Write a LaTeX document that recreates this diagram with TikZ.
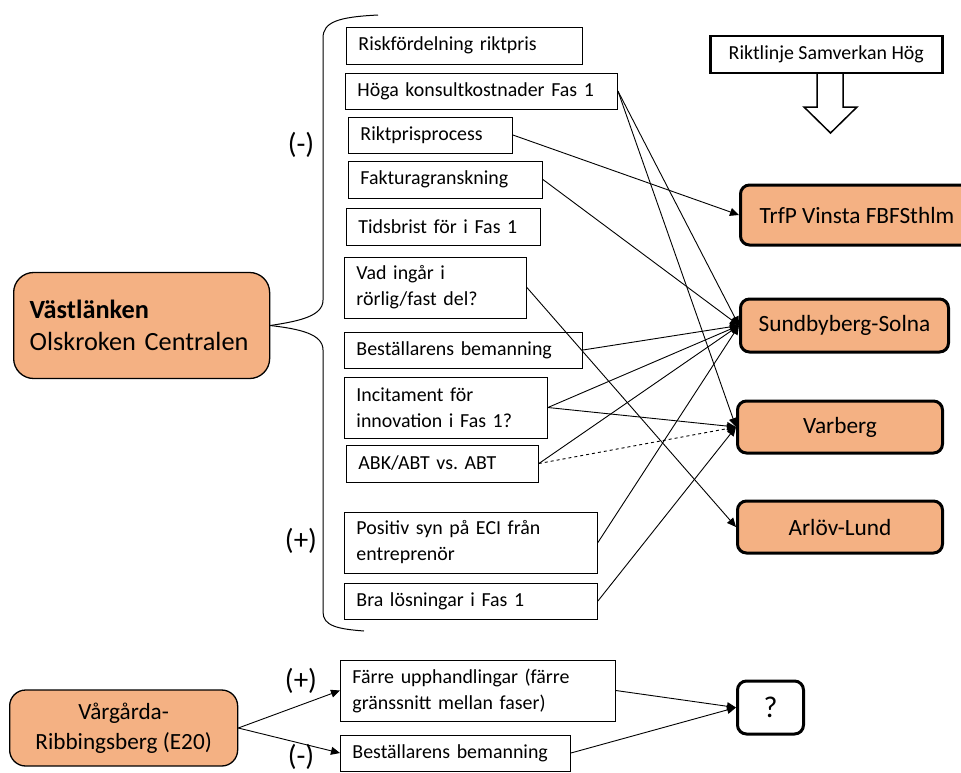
\documentclass[tikz,border=0pt]{standalone}
\usepackage{fontspec}
\setmainfont{Carlito}
\frenchspacing
\usepackage{tikz}
\usetikzlibrary{positioning}
\usetikzlibrary{arrows.meta}
\definecolor{boxorange}{HTML}{F4B183}
\tikzset{
factor/.style={ % Boxes with the factors, text to the left
draw,
line width=0.9pt,
anchor=west,
align=left,
inner xsep=12pt,
inner ysep=0pt,
font=\fontsize{19.9}{26}\selectfont},
target/.style={ % Projects on the right
draw,
line width=3pt,
rounded corners=9pt,
fill=boxorange,
anchor=west,
inner sep=0pt,
font=\fontsize{23.3}{28}\selectfont},
project/.style={ % Projects on the left
draw,
line width=1.3pt,
fill=boxorange,
anchor=west,
inner sep=0pt},
sign/.style={font=\fontsize{29}{32}\selectfont},
>={Triangle[length=9pt,width=8pt]},
every edge/.style={ % Sets the properties for each connector
draw,
->,
line width=0.9pt}}

\begin{document}
\begin{tikzpicture}[x=1pt, y=-1pt]
\useasboundingbox (0,0) rectangle (961,772);
\node[project, rounded corners=20pt, minimum width=256pt, minimum height=106pt, text width=224pt, align=left, font=\fontsize{26.3}{32}\selectfont] (vast) at (13,325.5) {\textbf{Västlänken}\\Olskroken Centralen};
\node[factor, text width=212pt, minimum height=37pt] (risk) at (346,45.5) {Riskfördelning riktpris};
\node[factor, text width=248pt, minimum height=36pt] (hoga) at (345,91) {Höga konsultkostnader Fas 1};
\node[factor, text width=140pt, minimum height=36pt] (riktp) at (348,135) {Riktprisprocess};
\node[factor, text width=170pt, minimum height=37pt] (faktura) at (348,179.5) {Fakturagranskning};
\node[factor, text width=170pt, minimum height=37pt] (tids) at (346,226.5) {Tidsbrist för i Fas 1};
\node[factor, text width=158pt, minimum height=61pt] (vad) at (344,287.5) {Vad ingår i\\rörlig/fast del?};
\node[factor, text width=214pt, minimum height=36pt] (best) at (344,350) {Beställarens bemanning};
\node[factor, text width=179pt, minimum height=61pt] (incit) at (344,407.5) {Incitament för\\innovation i Fas 1?};
\node[factor, text width=168pt, minimum height=37pt] (abk) at (346,463.5) {ABK/ABT vs. ABT};
\node[factor, text width=229pt, minimum height=61pt] (positiv) at (344,542.5) {Positiv syn på ECI från\\entreprenör};
\node[factor, text width=229pt, minimum height=36pt] (bra) at (344,601) {Bra lösningar i Fas 1};
\node[sign] (minus) at (301,145) {(-)};
\node[sign] (plus) at (301,541) {(+)};
% brace from the project to the factors
\coordinate (bracetop) at (378,15);
\coordinate (bracebot) at (364,631);
\draw[line width=1pt] (bracetop) .. controls (338,17) and (323,22) .. (323,38) -- (323,300) .. controls (323,316) and (300,321) .. (vast.east);
\draw[line width=1pt] (vast.east) .. controls (300,329) and (323,334) .. (323,350) -- (323,612) .. controls (323,626) and (338,629) .. (bracebot);
\node[draw, line width=2.5pt, anchor=west, minimum width=232pt, minimum height=37pt, font=\fontsize{19.9}{24}\selectfont] (riktl) at (709,54.5) {Riktlinje Samverkan Hög};
\draw[line width=1.5pt] (817,73) -- (817,107) -- (804,107) -- (830.5,133) -- (857,107) -- (843,107) -- (843,73);
\node[target, minimum width=233pt, minimum height=60pt] (trfp) at (739,215) {TrfP Vinsta FBFSthlm};
\node[target, minimum width=208pt, minimum height=53pt] (sund) at (739,325.5) {Sundbyberg-Solna};
\node[target, minimum width=205pt, minimum height=52pt] (varb) at (736,427) {Varberg};
\node[target, minimum width=205pt, minimum height=52pt] (arlov) at (736,527) {Arlöv-Lund};
\draw (riktp.east) edge (trfp.west);
\draw (hoga.east) edge (sund.west);
\draw (hoga.east) edge (varb.west);
\draw (faktura.east) edge (sund.west);
\draw (vad.east) edge (arlov.west);
\draw (best.east) edge (sund.west);
\draw (incit.east) edge (sund.west);
\draw (incit.east) edge (varb.west);
\draw (abk.east) edge (sund.west);
\draw (abk.east) edge[dashed] (varb.west);
\draw (positiv.east) edge (sund.west);
\draw (bra.east) edge (varb.west);
% second project
\node[project, rounded corners=16pt, minimum width=228pt, minimum height=76pt, align=center, font=\fontsize{23.2}{30}\selectfont] (varg) at (9,728) {Vårgårda-\\Ribbingsberg (E20)};
\node[factor, text width=251pt, minimum height=61pt] (farre) at (340,690.5) {Färre upphandlingar (färre\\gränssnitt mellan faser)};
\node[factor, text width=206pt, minimum height=36pt] (best2) at (340,753) {Beställarens bemanning};
\node[target, fill=white, minimum width=66pt, minimum height=53pt, font=\fontsize{30}{32}\selectfont] (q) at (736,707.5) {?};
\node[sign] (plus2) at (301,681) {(+)};
\node[sign] (minus2) at (301,757) {(-)};
\draw (varg.east) edge (farre.west);
\draw (varg.east) edge (best2.west);
\draw (farre.east) edge (q.west);
\draw (best2.east) edge (q.west);
\end{tikzpicture}
\end{document}
